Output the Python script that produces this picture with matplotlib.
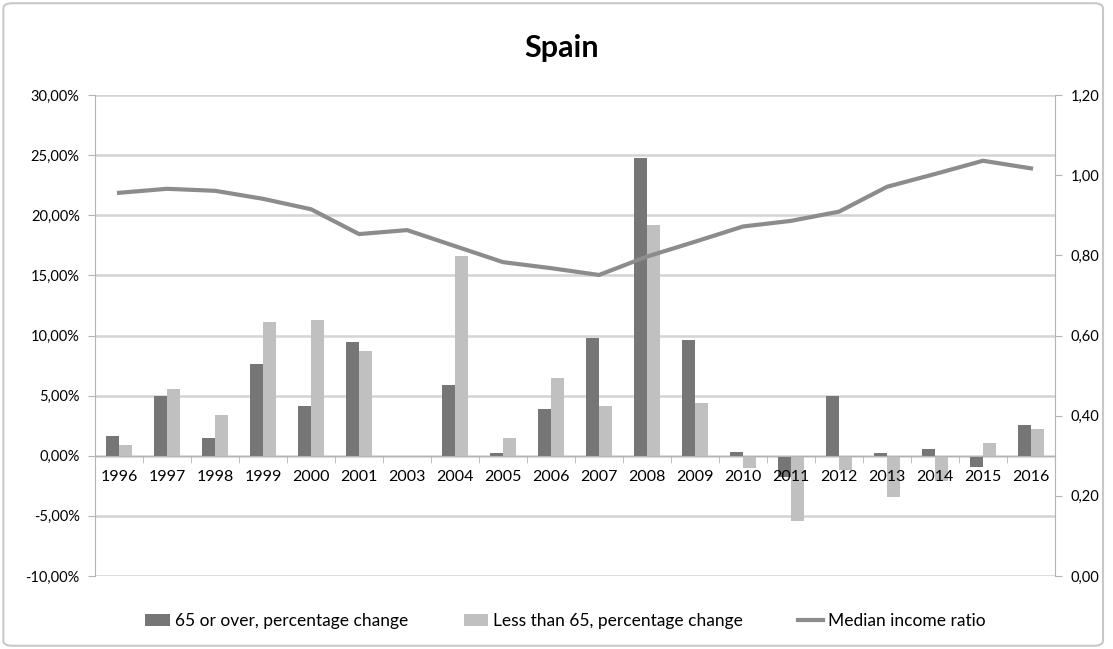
import numpy as np
import matplotlib.pyplot as plt
from matplotlib.patches import FancyBboxPatch
from matplotlib.ticker import FuncFormatter

years = ['1996', '1997', '1998', '1999', '2000', '2001', '2003', '2004', '2005', '2006',
         '2007', '2008', '2009', '2010', '2011', '2012', '2013', '2014', '2015', '2016']
over_65 = [1.66, 4.93, 1.5, 7.6, 4.1, 9.5, 0.0, 5.9, 0.2, 3.9,
           9.8, 24.8, 9.65, 0.33, -1.8, 5.0, 0.2, 0.6, -0.9, 2.55]
under_65 = [0.89, 5.55, 3.39, 11.1, 11.25, 8.75, 0.0, 16.6, 1.5, 6.5,
            4.1, 19.2, 4.35, -1.05, -5.4, -1.2, -3.4, -2.1, 1.1, 2.2]
median_ratio = [0.956, 0.966, 0.961, 0.941, 0.915, 0.853, 0.863, 0.823, 0.783, 0.768,
                0.751, 0.797, 0.834, 0.872, 0.886, 0.909, 0.971, 1.003, 1.036, 1.017]
left_ticks = [-10, -5, 0, 5, 10, 15, 20, 25, 30]
right_ticks = [0.0, 0.2, 0.4, 0.6, 0.8, 1.0, 1.2]

plt.rcParams['font.family'] = ['Lato', 'DejaVu Sans']

dark = '#767676'
light = '#c0c0c0'
line_c = '#8c8c8c'
axis_c = '#b4b4b4'

fig = plt.figure(figsize=(11.13, 6.49), dpi=100)
fig.patches.append(FancyBboxPatch((0.003, 0.005), 0.988, 0.99, boxstyle='round,pad=0,rounding_size=0.008',
                                  transform=fig.transFigure, facecolor='none',
                                  edgecolor='#c8c8c8', linewidth=1.5))

ax = fig.add_axes([0.0854, 0.1125, 0.8625, 0.7411])
x = np.arange(len(years))
w = 0.27
ax.bar(x - w / 2, over_65, w, color=dark, zorder=1, label='65 or over, percentage change')
ax.bar(x + w / 2, under_65, w, color=light, zorder=1, label='Less than 65, percentage change')

ax.set_xlim(-0.5, len(years) - 0.5)
ax.set_ylim(-10, 30)
ax.set_yticks(left_ticks)
for t in left_ticks:
    ax.axhline(t, color='#d4d4d4', linewidth=1.8, zorder=0)
ax.yaxis.set_major_formatter(FuncFormatter(lambda v, p: ('%.2f%%' % v).replace('.', ',')))

ax.spines['bottom'].set_position(('data', 0))
ax.spines['bottom'].set_color(axis_c)
ax.spines['left'].set_color(axis_c)
ax.spines['top'].set_visible(False)
ax.spines['right'].set_visible(False)
ax.set_xticks(x)
ax.set_xticklabels(years)
ax.set_xticks(np.arange(len(years) + 1) - 0.5, minor=True)
ax.tick_params(axis='x', which='major', length=0, pad=10, labelsize=11.5)
ax.tick_params(axis='x', which='minor', length=5, color=axis_c)
ax.tick_params(axis='y', length=5, color=axis_c, labelsize=10.5, pad=6)

ax2 = ax.twinx()
ax2.plot(x, median_ratio, color=line_c, linewidth=3, label='Median income ratio')
ax2.set_ylim(0, 1.2)
ax2.set_yticks(right_ticks)
ax2.yaxis.set_major_formatter(FuncFormatter(lambda v, p: ('%.2f' % v).replace('.', ',')))
for s in ['top', 'bottom', 'left']:
    ax2.spines[s].set_visible(False)
ax2.spines['right'].set_color(axis_c)
ax2.tick_params(axis='y', length=5, color=axis_c, labelsize=10.5, pad=6)

fig.text(0.505, 0.926, 'Spain', ha='center', va='center', fontsize=22, fontweight='bold')

h1, l1 = ax.get_legend_handles_labels()
h2, l2 = ax2.get_legend_handles_labels()
fig.legend(h1 + h2, l1 + l2, loc='center', bbox_to_anchor=(0.508, 0.043), ncol=3, frameon=False,
           fontsize=12.5, handlelength=1.4, handletextpad=0.3, columnspacing=3.2)

fig.savefig('out.png', dpi=100)
